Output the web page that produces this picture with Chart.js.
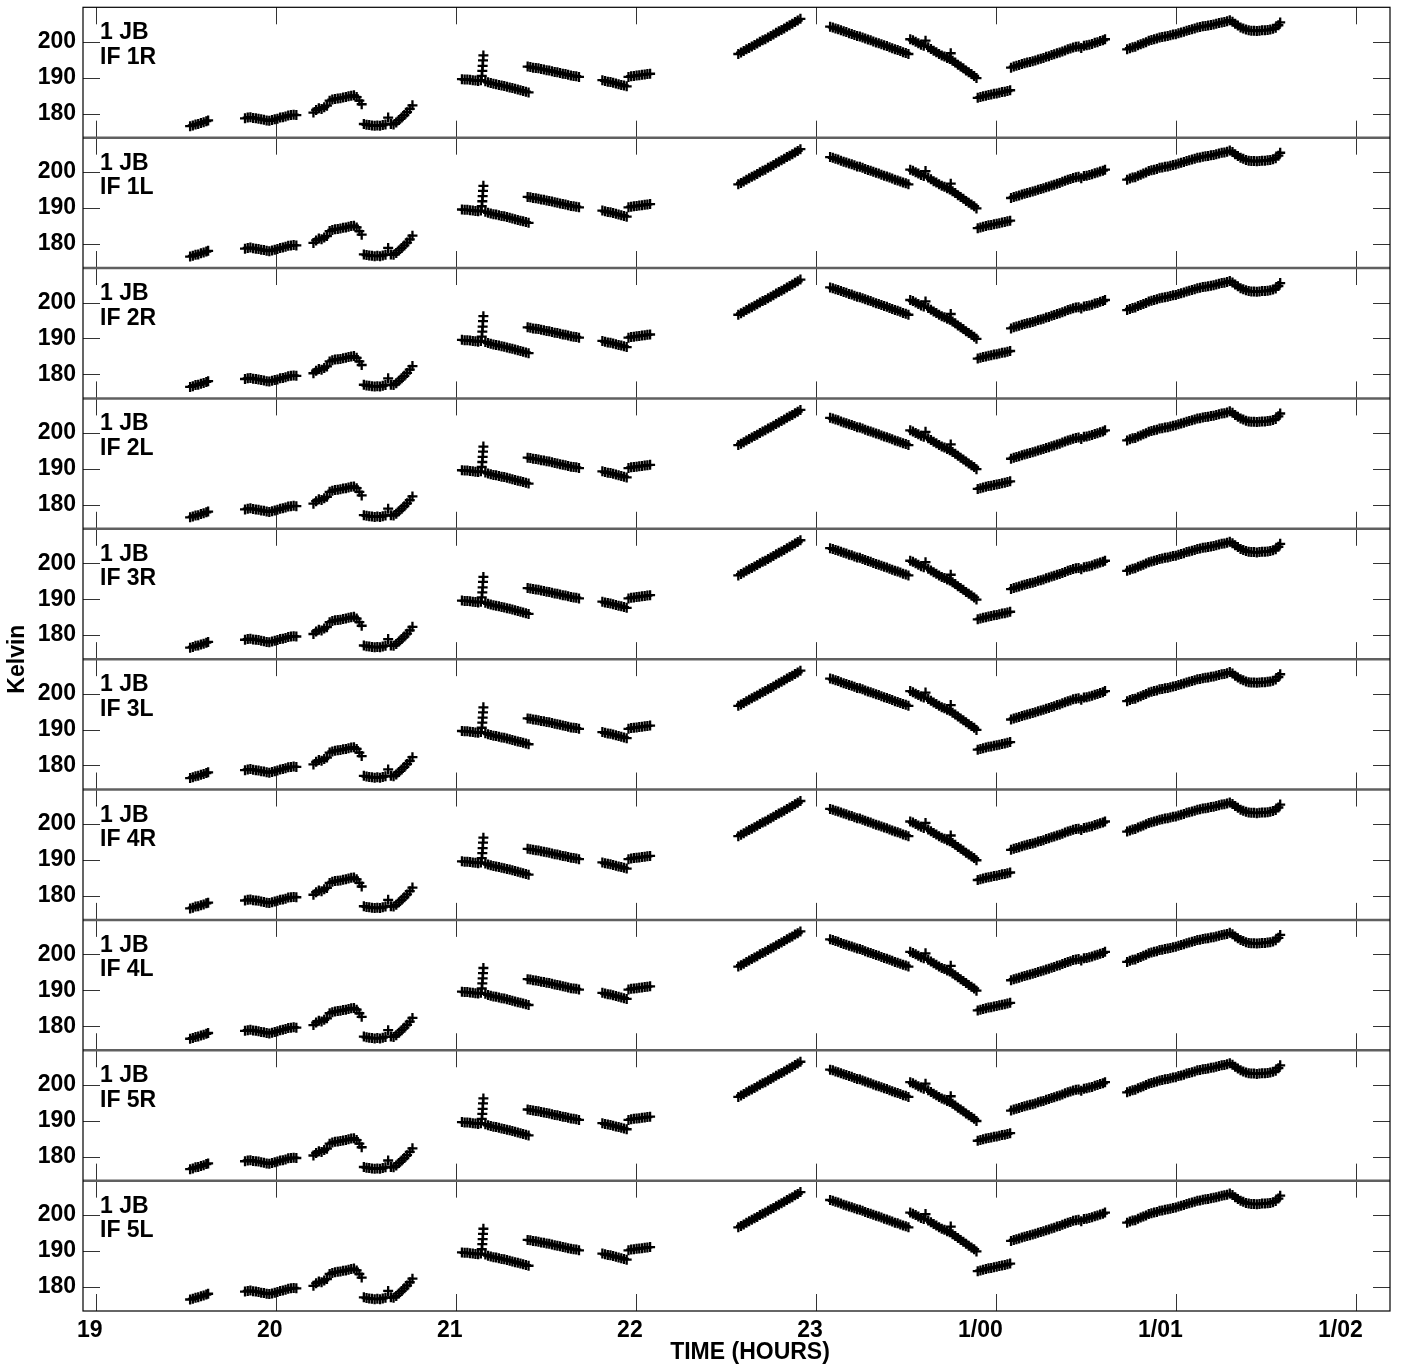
<!DOCTYPE html>
<html>
<head>
<meta charset="utf-8">
<title>1 JB system temperature</title>
<script src="https://cdn.jsdelivr.net/npm/chart.js@4.4.1/dist/chart.umd.min.js"></script>
<style>
  html, body { margin: 0; padding: 0; background: #fff; }
  #wrap { width: 1401px; height: 1368px; }
</style>
</head>
<body>
<div id="wrap"><canvas id="tsysChart" width="1401" height="1368"></canvas></div>
<script>
// Panel labels (one per IF / polarisation), top to bottom
const panelNames = ['IF 1R', 'IF 1L', 'IF 2R', 'IF 2L', 'IF 3R', 'IF 3L', 'IF 4R', 'IF 4L', 'IF 5R', 'IF 5L'];
const antennaName = '1 JB';

// Axis ticks
const xTickValues = [19, 20, 21, 22, 23, 24, 25, 26];
const xTickLabels = ['19', '20', '21', '22', '23', '1/00', '1/01', '1/02'];
const yTickValues = [180, 190, 200];

// Scan times (hours) and system temperatures (Kelvin), one list per scan
const scanTimes = [
    [19.525, 19.54, 19.555, 19.57, 19.585, 19.60, 19.615, 19.625],
    [19.83, 19.845, 19.86, 19.875, 19.89, 19.905, 19.92, 19.935, 19.95, 19.965, 19.98, 19.995, 20.01, 20.025, 20.04, 20.055, 20.07, 20.085, 20.10, 20.115],
    [20.21, 20.225, 20.24, 20.255, 20.27, 20.285],
    [20.30, 20.315, 20.33, 20.345, 20.36, 20.375, 20.39, 20.405, 20.42, 20.435, 20.45, 20.465, 20.478],
    [20.49, 20.505, 20.52, 20.535, 20.55, 20.565, 20.58, 20.595, 20.61, 20.625, 20.64],
    [20.655, 20.67, 20.685, 20.70, 20.715, 20.73, 20.745, 20.76],
    [21.035, 21.05, 21.065, 21.08, 21.095, 21.11, 21.125, 21.14, 21.145, 21.148, 21.15, 21.152, 21.154],
    [21.165, 21.18, 21.195, 21.21, 21.225, 21.24, 21.255, 21.27, 21.285, 21.30, 21.315, 21.33, 21.345, 21.36, 21.375, 21.39, 21.405],
    [21.40, 21.415, 21.43, 21.445, 21.46, 21.475, 21.49, 21.505, 21.52, 21.535, 21.55, 21.565, 21.58, 21.595, 21.61, 21.625, 21.64, 21.655, 21.67, 21.685],
    [21.815, 21.83, 21.845, 21.86, 21.875, 21.89, 21.905, 21.92, 21.935, 21.95],
    [21.96, 21.975, 21.99, 22.005, 22.02, 22.035, 22.05, 22.065, 22.08],
    [22.57, 22.585, 22.60, 22.615, 22.63, 22.645, 22.66, 22.675, 22.69, 22.705, 22.72, 22.735, 22.75, 22.765, 22.78, 22.795, 22.81, 22.825, 22.84, 22.855, 22.87, 22.885, 22.90, 22.915],
    [23.08, 23.095, 23.11, 23.125, 23.14, 23.155, 23.17, 23.185, 23.20, 23.215, 23.23, 23.245, 23.26, 23.275, 23.29, 23.305, 23.32, 23.335, 23.35, 23.365, 23.38, 23.395, 23.41, 23.425, 23.44, 23.455, 23.47, 23.485, 23.50, 23.515],
    [23.525, 23.54, 23.555, 23.57, 23.585, 23.60, 23.61, 23.625, 23.64, 23.655, 23.67, 23.685, 23.70, 23.715, 23.73, 23.745, 23.75, 23.76, 23.775, 23.79, 23.805, 23.82, 23.835, 23.85, 23.865, 23.88, 23.893],
    [23.90, 23.915, 23.93, 23.945, 23.96, 23.975, 23.99, 24.005, 24.02, 24.035, 24.05, 24.065, 24.08],
    [24.085, 24.10, 24.115, 24.13, 24.145, 24.16, 24.175, 24.19, 24.205, 24.22, 24.235, 24.25, 24.265, 24.28, 24.295, 24.31, 24.325, 24.34, 24.355, 24.37, 24.385, 24.40, 24.415, 24.43, 24.445, 24.46, 24.475, 24.49, 24.505, 24.52, 24.535, 24.55, 24.565, 24.58, 24.595, 24.607],
    [24.73, 24.745, 24.76, 24.775, 24.79, 24.805, 24.82, 24.835, 24.85, 24.865, 24.88, 24.895, 24.91, 24.925, 24.94, 24.955, 24.97, 24.985, 25.00, 25.015, 25.03, 25.045, 25.06, 25.075, 25.09, 25.105, 25.12, 25.135, 25.15, 25.165, 25.18, 25.195, 25.21, 25.225, 25.24, 25.255, 25.27, 25.285, 25.30, 25.315, 25.33, 25.345, 25.36, 25.375, 25.39, 25.405, 25.42, 25.435, 25.45, 25.465, 25.48, 25.495, 25.51, 25.525, 25.54, 25.555, 25.57, 25.58]
];

const scanKelvin = [
    [176.5, 176.7, 177.0, 177.1, 177.4, 177.6, 177.9, 178.1],
    [178.7, 178.9, 179.0, 178.8, 178.7, 178.6, 178.4, 178.3, 178.1, 178.0, 178.2, 178.4, 178.6, 178.9, 179.0, 179.2, 179.5, 179.6, 179.7, 179.6],
    [180.3, 181.0, 181.5, 181.3, 181.8, 182.2],
    [183.6, 183.9, 184.1, 184.2, 184.3, 184.5, 184.6, 184.8, 185.0, 185.1, 184.6, 183.6, 182.6],
    [177.1, 176.9, 176.8, 176.7, 176.6, 176.7, 176.6, 176.8, 177.0, 178.9, 177.1],
    [177.0, 177.5, 178.2, 178.9, 179.6, 180.4, 181.3, 182.3],
    [189.6, 189.5, 189.5, 189.4, 189.3, 189.2, 189.1, 189.3, 190.5, 191.9, 193.3, 194.8, 196.2],
    [189.0, 188.7, 188.5, 188.3, 188.2, 188.0, 187.8, 187.7, 187.5, 187.3, 187.1, 186.9, 186.7, 186.5, 186.3, 186.1, 185.9],
    [193.1, 193.0, 192.8, 192.7, 192.6, 192.4, 192.3, 192.1, 192.0, 191.8, 191.6, 191.5, 191.3, 191.1, 191.0, 190.8, 190.6, 190.5, 190.4, 190.2],
    [189.3, 189.1, 188.9, 188.8, 188.6, 188.4, 188.2, 188.0, 187.8, 187.6],
    [190.2, 190.4, 190.5, 190.6, 190.7, 190.8, 190.9, 191.0, 191.1],
    [196.6, 197.0, 197.4, 197.9, 198.3, 198.7, 199.1, 199.5, 200.0, 200.4, 200.7, 201.2, 201.6, 202.0, 202.5, 202.9, 203.3, 203.7, 204.2, 204.6, 205.0, 205.5, 205.9, 206.4],
    [204.2, 204.0, 203.7, 203.5, 203.2, 202.9, 202.7, 202.4, 202.2, 201.9, 201.6, 201.5, 201.2, 200.9, 200.6, 200.4, 200.1, 199.8, 199.6, 199.3, 199.0, 198.8, 198.5, 198.2, 197.9, 197.7, 197.4, 197.1, 196.9, 196.6],
    [200.7, 200.4, 200.0, 199.6, 199.2, 198.9, 200.3, 198.5, 198.0, 197.5, 197.1, 196.6, 196.2, 195.9, 195.5, 195.2, 196.8, 194.7, 194.2, 193.6, 193.1, 192.6, 192.0, 191.5, 191.0, 190.5, 189.9],
    [184.4, 184.6, 184.8, 185.0, 185.2, 185.3, 185.5, 185.6, 185.8, 186.0, 186.1, 186.3, 186.5],
    [192.8, 193.1, 193.3, 193.5, 193.8, 194.0, 194.2, 194.4, 194.6, 194.8, 195.1, 195.3, 195.5, 195.8, 196.0, 196.3, 196.5, 196.8, 197.0, 197.3, 197.6, 197.9, 198.1, 198.4, 198.6, 198.7, 198.3, 198.9, 199.0, 199.2, 199.4, 199.7, 199.9, 200.2, 200.4, 200.7],
    [197.9, 198.2, 198.5, 198.6, 199.0, 199.3, 199.6, 199.9, 200.3, 200.5, 200.7, 200.9, 201.2, 201.3, 201.5, 201.6, 201.8, 202.0, 202.1, 202.4, 202.6, 202.8, 203.1, 203.3, 203.5, 203.7, 204.0, 204.1, 204.3, 204.4, 204.5, 204.7, 204.8, 205.0, 205.2, 205.4, 205.5, 205.7, 206.0, 205.6, 205.0, 204.5, 204.0, 203.7, 203.4, 203.2, 203.1, 203.1, 203.0, 203.1, 203.2, 203.2, 203.3, 203.4, 203.6, 203.9, 204.6, 205.4]
];

// Axis ranges
const X_MIN = 18.93;
const X_MAX = 26.19;
const Y_MIN = 173.3;
const Y_MAX = 209.6;

const FONT_FAMILY = '"Liberation Sans", Arial, Helvetica, sans-serif';
const FONT_SIZE = 23;
const TICK_LEN = 17;

// Flatten scans into point objects
function buildPoints() {
    const points = [];
    scanTimes.forEach((times, s) => {
        times.forEach((t, k) => points.push({ x: t, y: scanKelvin[s][k] }));
    });
    return points;
}

/**
 * Draws the panel frames, inward ticks and text labels
 */
const framePlugin = {
    id: 'panelFrames',
    beforeDatasetsDraw(chart) {
        const { ctx, chartArea: area, scales } = chart;
        const xScale = scales.x;
        ctx.save();

        panelNames.forEach((name, i) => {
            const ys = scales['y' + i];
            ctx.strokeStyle = '#333';
            ctx.lineWidth = 1;
            ctx.beginPath();
            xTickValues.forEach(v => {
                const px = Math.round(xScale.getPixelForValue(v)) + 0.5;
                ctx.moveTo(px, ys.top);
                ctx.lineTo(px, ys.top + TICK_LEN);
                ctx.moveTo(px, ys.bottom);
                ctx.lineTo(px, ys.bottom - TICK_LEN);
            });
            yTickValues.forEach(v => {
                const py = Math.round(ys.getPixelForValue(v)) + 0.5;
                ctx.moveTo(area.left, py);
                ctx.lineTo(area.left + TICK_LEN, py);
                ctx.moveTo(area.right, py);
                ctx.lineTo(area.right - TICK_LEN, py);
            });
            ctx.stroke();

            // separator between panels
            if (i > 0) {
                ctx.strokeStyle = '#606060';
                ctx.lineWidth = 2.5;
                ctx.beginPath();
                ctx.moveTo(area.left, ys.top);
                ctx.lineTo(area.right, ys.top);
                ctx.stroke();
            }
        });

        // outer frame
        ctx.strokeStyle = '#000';
        ctx.lineWidth = 1.2;
        ctx.strokeRect(area.left, area.top, area.right - area.left, area.bottom - area.top);
        ctx.restore();
    },
    afterDraw(chart) {
        const { ctx, chartArea: area, scales } = chart;
        ctx.save();
        ctx.fillStyle = '#000';
        ctx.font = 'bold ' + FONT_SIZE + 'px ' + FONT_FAMILY;
        ctx.textAlign = 'left';
        ctx.textBaseline = 'alphabetic';

        panelNames.forEach((name, i) => {
            const ys = scales['y' + i];
            ctx.fillText(antennaName, area.left + 17, ys.top + 32);
            ctx.fillText(name, area.left + 17, ys.top + 56.5);
        });

        // axis titles
        ctx.textAlign = 'center';
        ctx.textBaseline = 'middle';
        ctx.fillText('TIME (HOURS)', 750, 1353);

        ctx.translate(18, (area.top + area.bottom) / 2);
        ctx.rotate(-Math.PI / 2);
        ctx.fillText('Kelvin', 0, 0);
        ctx.restore();
    }
};

function buildScales() {
    const scales = {
        x: {
            type: 'linear',
            axis: 'x',
            position: 'bottom',
            min: X_MIN,
            max: X_MAX,
            afterBuildTicks: scale => {
                scale.ticks = xTickValues.map(v => ({ value: v }));
            },
            afterFit: scale => {
                scale.height = 57;
                scale.paddingLeft = 0;
                scale.paddingRight = 0;
            },
            ticks: {
                autoSkip: false,
                maxRotation: 0,
                align: 'end',
                labelOffset: 7,
                padding: 6,
                color: '#000',
                font: { family: FONT_FAMILY, size: FONT_SIZE, weight: 'bold' },
                callback: value => xTickLabels[xTickValues.indexOf(value)]
            },
            grid: { display: false, drawTicks: false },
            border: { display: false }
        }
    };

    // stacked axes are placed bottom-up, so add the lowest panel first
    for (let i = panelNames.length - 1; i >= 0; i--) {
        scales['y' + i] = {
            type: 'linear',
            axis: 'y',
            position: 'left',
            stack: 'panels',
            stackWeight: 1,
            min: Y_MIN,
            max: Y_MAX,
            afterBuildTicks: scale => {
                scale.ticks = yTickValues.map(v => ({ value: v }));
            },
            afterFit: scale => {
                scale.width = 83;
                scale.paddingTop = 0;
                scale.paddingBottom = 0;
            },
            ticks: {
                padding: 7,
                color: '#000',
                font: { family: FONT_FAMILY, size: FONT_SIZE, weight: 'bold' }
            },
            grid: { display: false, drawTicks: false },
            border: { display: false }
        };
    }
    return scales;
}

function renderChart() {
    const canvas = document.getElementById('tsysChart');
    const ctx = canvas.getContext('2d');
    const points = buildPoints();

    const datasets = panelNames.map((name, i) => ({
        label: antennaName + ' ' + name,
        data: points,
        xAxisID: 'x',
        yAxisID: 'y' + i,
        pointStyle: 'cross',
        pointRadius: 5,
        pointBorderWidth: 2.3,
        borderColor: '#000',
        backgroundColor: '#000',
        showLine: false
    }));

    new Chart(ctx, {
        type: 'scatter',
        data: { datasets },
        options: {
            responsive: false,
            animation: false,
            layout: { padding: { top: 5, right: 11, left: 0, bottom: 0 } },
            scales: buildScales(),
            plugins: {
                legend: { display: false },
                tooltip: { enabled: false }
            }
        },
        plugins: [framePlugin]
    });
}

renderChart();
</script>
</body>
</html>
